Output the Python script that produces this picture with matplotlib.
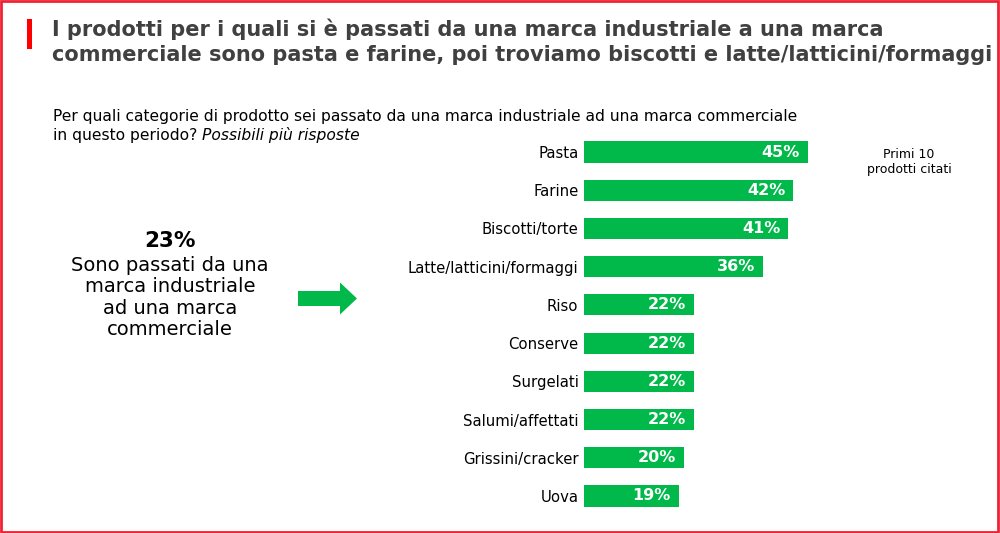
import matplotlib
matplotlib.use("Agg")
import matplotlib.pyplot as plt
from matplotlib.patches import Rectangle, FancyArrow

categories = ["Pasta", "Farine", "Biscotti/torte", "Latte/latticini/formaggi", "Riso",
              "Conserve", "Surgelati", "Salumi/affettati", "Grissini/cracker", "Uova"]
values = [45, 42, 41, 36, 22, 22, 22, 22, 20, 19]
value_labels = ["45%", "42%", "41%", "36%", "22%", "22%", "22%", "22%", "20%", "19%"]

title_line1 = "I prodotti per i quali si è passati da una marca industriale a una marca"
title_line2 = "commerciale sono pasta e farine, poi troviamo biscotti e latte/latticini/formaggi"
question_line1 = "Per quali categorie di prodotto sei passato da una marca industriale ad una marca commerciale"
question_line2a = "in questo periodo? "
question_line2b = "Possibili più risposte"
headline_value = "23%"
headline_lines = ["Sono passati da una", "marca industriale", "ad una marca", "commerciale"]
note_text = "Primi 10\nprodotti citati"

GREEN = "#00B94A"
RED = "#FF0000"
TITLE_GRAY = "#404040"

W, H = 1000, 533
fig = plt.figure(figsize=(W / 100, H / 100), dpi=100)
fig.patch.set_facecolor("white")

def fx(x):
    return x / W

def fy(y):
    return 1 - y / H

# Border
fig.patches.append(Rectangle((0.001, 0.002), 0.997, 0.996, transform=fig.transFigure,
                             fill=False, edgecolor="#EE2233", linewidth=2))
# Red accent bar
fig.patches.append(Rectangle((fx(27), fy(49)), fx(5), (49 - 19) / H, transform=fig.transFigure,
                             facecolor=RED, edgecolor="none"))

fig.text(fx(52), fy(36), title_line1, fontsize=15, fontweight="bold", color=TITLE_GRAY,
         ha="left", va="baseline")
fig.text(fx(52), fy(61), title_line2, fontsize=15, fontweight="bold", color=TITLE_GRAY,
         ha="left", va="baseline")

fig.text(fx(53), fy(121), question_line1, fontsize=11.2, color="black", ha="left", va="baseline")
t = fig.text(fx(53), fy(140), question_line2a, fontsize=11.2, color="black", ha="left", va="baseline")
fig.canvas.draw()
bb = t.get_window_extent()
fig.text(bb.x1 / W, fy(140), question_line2b, fontsize=11.2, style="italic", color="black",
         ha="left", va="baseline")

fig.text(fx(170), fy(247), headline_value, fontsize=15.5, fontweight="bold", color="black",
         ha="center", va="baseline")
for i, line in enumerate(headline_lines):
    fig.text(fx(170), fy(271 + i * 21.3), line, fontsize=14, color="black",
             ha="center", va="baseline")

# Arrow
fig.patches.append(FancyArrow(fx(298), fy(298.5), fx(59), 0, width=15 / H, head_width=32 / H,
                              head_length=fx(17), length_includes_head=True,
                              transform=fig.transFigure, color=GREEN, linewidth=0))

fig.text(fx(909), fy(162), note_text, fontsize=9, color="black", ha="center", va="center",
         linespacing=1.25)

# Bar chart
px_per_unit = 224 / 45
x_max = 50
ax_left = 584
row = 38.2
top = 152 - row / 2
bottom = 496 + row / 2
ax = fig.add_axes([fx(ax_left), fy(bottom), fx(x_max * px_per_unit), (bottom - top) / H])
ypos = list(range(len(categories)))
ax.barh(ypos, values, height=0.55, color=GREEN, edgecolor="none")
ax.set_xlim(0, x_max)
ax.set_ylim(len(categories) - 0.5, -0.5)
ax.set_yticks(ypos)
ax.set_yticklabels(categories, fontsize=10.7)
ax.tick_params(axis="y", length=0, pad=4)
ax.set_xticks([])
for s in ax.spines.values():
    s.set_visible(False)
ax.patch.set_alpha(0)
for y, v, lab in zip(ypos, values, value_labels):
    ax.annotate(lab, (v, y), xytext=(-8, 0), textcoords="offset pixels",
                ha="right", va="center", color="white", fontweight="bold", fontsize=11.5)

fig.savefig("out.png", dpi=100, facecolor="white")
